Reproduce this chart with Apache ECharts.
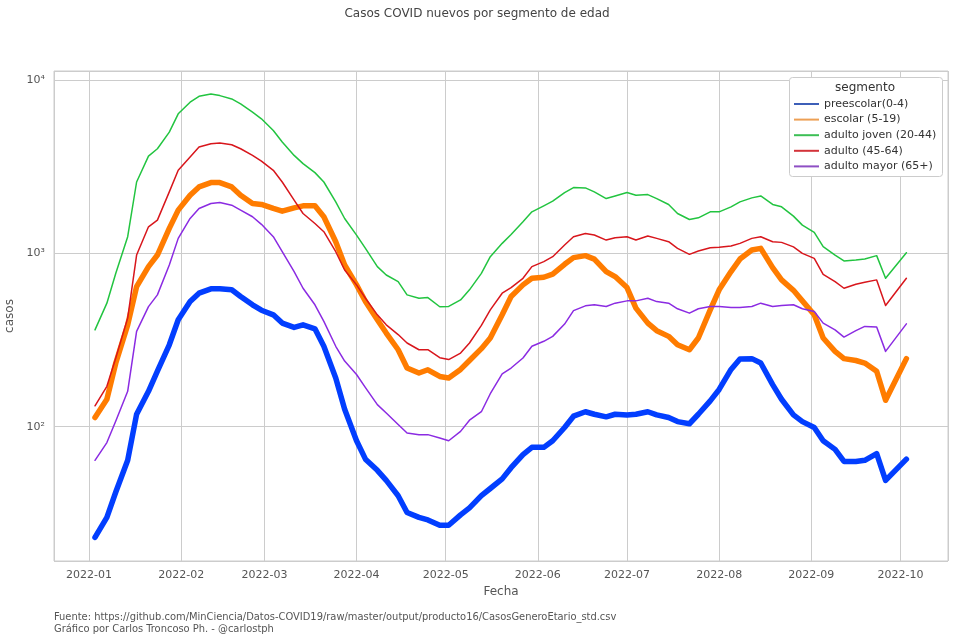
<!DOCTYPE html>
<html>
<head>
<meta charset="utf-8">
<script src="https://cdn.jsdelivr.net/npm/echarts@6/dist/echarts.min.js"></script>
<style>
  html, body { margin: 0; padding: 0; background: #fff; }
  #grafico { width: 954px; height: 641px; }
</style>
</head>
<body>
<div id="grafico"></div>
<script>
// datos (casos nuevos, escala log)
var fechas = [
  '2022-01-03','2022-01-07','2022-01-10','2022-01-14','2022-01-17','2022-01-21','2022-01-24','2022-01-28','2022-01-31',
  '2022-02-04','2022-02-07','2022-02-11','2022-02-14','2022-02-18','2022-02-21','2022-02-25','2022-02-28',
  '2022-03-04','2022-03-07','2022-03-11','2022-03-14','2022-03-18','2022-03-21','2022-03-25','2022-03-28',
  '2022-04-01','2022-04-04','2022-04-08','2022-04-11','2022-04-15','2022-04-18','2022-04-22','2022-04-25','2022-04-29',
  '2022-05-02','2022-05-06','2022-05-09','2022-05-13','2022-05-16','2022-05-20','2022-05-23','2022-05-27','2022-05-30',
  '2022-06-03','2022-06-06','2022-06-10','2022-06-13','2022-06-17','2022-06-20','2022-06-24','2022-06-27',
  '2022-07-01','2022-07-04','2022-07-08','2022-07-11','2022-07-15','2022-07-18','2022-07-22','2022-07-25','2022-07-29',
  '2022-08-01','2022-08-05','2022-08-08','2022-08-12','2022-08-15','2022-08-19','2022-08-22','2022-08-26','2022-08-29',
  '2022-09-02','2022-09-05','2022-09-09','2022-09-12','2022-09-16','2022-09-19','2022-09-23','2022-09-26',
  '2022-10-03'
];

var segmentos = ['preescolar(0-4)', 'escolar (5-19)', 'adulto joven (20-44)', 'adulto (45-64)', 'adulto mayor (65+)'];

var preescolar = [23,30,42,64,118,160,209,297,414, 527,589,624,624,616,564,505,470,
  442,396,374,387,367,291,191,126, 83,65,56,49,40,32,30,29,27,
  27,31,34,40,44,50,58,69,76, 76,83,99,115,122,118,114,118,
  117,118,122,117,113,107,104,118,141, 164,214,246,247,233,175,144,117,107,
  99,83,74,63,63,64,70,49, 65];

var escolar = [113,144,233,387,643,838,978,1393,1775, 2164,2416,2559,2559,2416,2164,1938,1915,
  1815,1751,1830,1880,1880,1625,1167,857, 658,528,414,347,278,218,204,213,195,
  191,214,241,282,325,442,564,658,718, 728,758,865,945,970,927,785,735,
  635,483,396,358,332,297,278,325,472, 616,785,927,1045,1069,827,703,612,532,
  442,325,272,247,241,233,209,142, 247];

var adultoJoven = [362,516,767,1247,2580,3641,4011,5003,6380, 7448,8057,8311,8128,7778,7278,6521,5970,
  5115,4385,3673,3292,2922,2580,1982,1589, 1275,1069,838,750,687,576,551,556,492,
  494,539,616,767,957,1142,1286,1521,1736, 1880,1999,2242,2396,2385,2262,2070,2140,
  2242,2164,2183,2070,1914,1698,1567,1603,1736, 1736,1855,1982,2089,2144,1914,1855,1640,1455,
  1321,1092,978,904,915,928,970,718, 1009];

var adulto = [132,171,249,423,978,1423,1554,2262,3013, 3594,4103,4290,4325,4230,4011,3673,3400,
  3013,2580,2026,1698,1487,1333,1022,802, 658,551,442,387,340,304,278,278,250,
  244,266,304,384,472,589,635,718,838, 896,957,1117,1247,1303,1275,1193,1231,
  1247,1193,1259,1220,1167,1069,987,1031,1078, 1083,1102,1142,1220,1247,1167,1157,1090,1000,
  936,757,687,629,664,681,703,500, 718];

var adultoMayor = [64,81,108,160,355,493,576,857,1220, 1589,1815,1938,1965,1897,1775,1626,1470,
  1247,1022,785,629,505,405,291,239, 200,168,134,120,103,92,90,90,86,
  83,94,109,122,155,202,218,249,291, 311,332,391,467,498,505,494,516,
  532,532,551,527,516,479,452,479,494, 494,487,487,494,516,494,500,505,479,
  462,396,362,329,358,379,376,272, 392];

var fuente = 'DejaVu Sans';
var colores = ['#023eff', '#ff7c00', '#22c440', '#d8161c', '#8b2be2'];
var coloresLeyenda = ['#3d5fb8', '#eda055', '#3cbf55', '#d3333a', '#8e4fc4'];
var grosores = [5.5, 5.5, 1.5, 1.5, 1.5];
var valores = [preescolar, escolar, adultoJoven, adulto, adultoMayor];
var sup = { 1: '\u00b9', 2: '\u00b2', 3: '\u00b3', 4: '\u2074' };

var chart = echarts.init(document.getElementById('grafico'));

var option = {
  backgroundColor: '#fff',
  animation: false,
  title: {
    text: 'Casos COVID nuevos por segmento de edad',
    left: 'center',
    top: 3,
    textStyle: { fontFamily: fuente, fontSize: 12, fontWeight: 'normal', color: '#444' }
  },
  legend: {
    orient: 'vertical',
    left: 789,
    top: 77,
    padding: [21, 6, 4, 5],
    icon: 'rect',
    itemWidth: 25,
    itemHeight: 2,
    itemGap: 3.6,
    z: 6,
    textStyle: { fontFamily: fuente, fontSize: 11, color: '#333', lineHeight: 12 },
    data: segmentos.map(function (n, i) {
      return { name: n, itemStyle: { color: coloresLeyenda[i] } };
    })
  },
  grid: {
    left: 54, top: 71, width: 894, height: 490,
    outerBoundsMode: 'none',
    containLabel: false,
    show: true, borderColor: '#cccccc', borderWidth: 1
  },
  xAxis: {
    type: 'time',
    min: new Date(2021, 11, 20, 5).getTime(),
    max: new Date(2022, 9, 17).getTime(),
    minInterval: 28 * 86400000,
    maxInterval: 31 * 86400000,
    splitNumber: 10,
    name: 'Fecha',
    nameLocation: 'middle',
    nameGap: 25,
    nameTextStyle: { fontFamily: fuente, fontSize: 12, color: '#555' },
    axisLine: { show: false },
    axisTick: { show: false },
    axisLabel: {
      fontFamily: fuente, fontSize: 11, color: '#555', margin: 9,
      showMinLabel: false, showMaxLabel: false,
      formatter: function (v) {
        var d = new Date(v);
        var m = d.getMonth() + 1;
        return d.getFullYear() + '-' + (m < 10 ? '0' + m : m);
      }
    },
    splitLine: { show: true, lineStyle: { color: '#cccccc', width: 1 } }
  },
  yAxis: {
    type: 'log',
    logBase: 10,
    min: 16.8,
    max: 11270,
    name: 'casos',
    nameLocation: 'middle',
    nameGap: 35,
    nameRotate: 90,
    nameTextStyle: { fontFamily: fuente, fontSize: 12, color: '#555' },
    axisLine: { show: false },
    axisTick: { show: false },
    axisLabel: {
      fontFamily: fuente, fontSize: 11, color: '#555', margin: 9,
      showMinLabel: false, showMaxLabel: false,
      formatter: function (v) {
        var l = Math.log10(v);
        var e = Math.round(l);
        if (Math.abs(l - e) > 1e-6) return '';
        return '10' + (sup[e] || '');
      }
    },
    splitLine: { show: true, lineStyle: { color: '#cccccc', width: 1 } }
  },
  graphic: [
    {
      type: 'rect',
      z: 5,
      shape: { x: 789.5, y: 77.5, width: 153, height: 99, r: 3 },
      style: { fill: '#fff', stroke: '#cccccc', lineWidth: 1 }
    },
    {
      type: 'text',
      z: 7,
      x: 865, y: 88,
      style: {
        text: 'segmento', fontFamily: fuente, fontSize: 12, fill: '#333',
        align: 'center', verticalAlign: 'middle'
      }
    },
    {
      type: 'text',
      left: 54, top: 611,
      style: {
        text: 'Fuente: https://github.com/MinCiencia/Datos-COVID19/raw/master/output/producto16/CasosGeneroEtario_std.csv\nGr\u00e1fico por Carlos Troncoso Ph. - @carlostph',
        fontFamily: '"DejaVu Sans Condensed", "Liberation Sans Narrow", sans-serif',
        fontSize: 11, lineHeight: 12, fill: '#555'
      }
    }
  ],
  series: segmentos.map(function (n, i) {
    return {
      name: n,
      type: 'line',
      symbol: 'none',
      lineStyle: { color: colores[i], width: grosores[i], join: 'round', cap: 'round' },
      itemStyle: { color: colores[i] },
      data: fechas.map(function (f, k) { return [f, valores[i][k]]; })
    };
  })
};

chart.setOption(option);
</script>
</body>
</html>
